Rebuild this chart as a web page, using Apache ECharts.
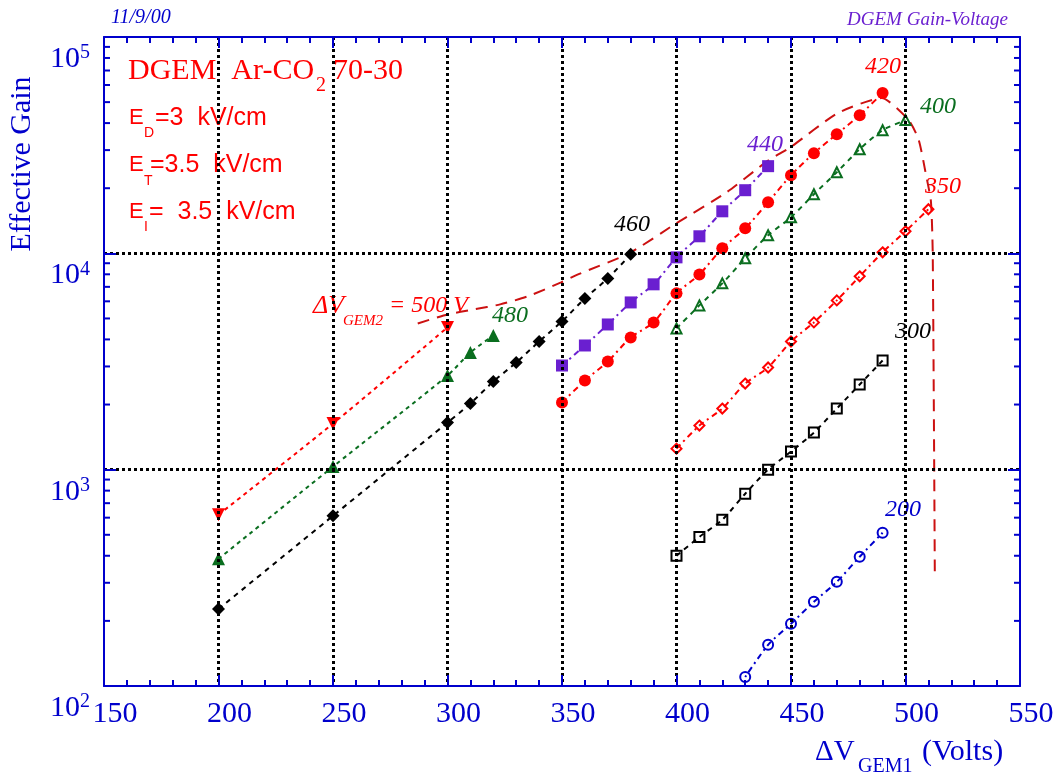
<!DOCTYPE html>
<html>
<head>
<meta charset="utf-8">
<script src="https://cdn.jsdelivr.net/npm/echarts@6/dist/echarts.min.js"></script>
<style>html,body{margin:0;padding:0;background:#fff}#c{width:1058px;height:776px}</style>
</head>
<body>
<div id="c"></div>
<script>
// ---- data (ΔV_GEM1 in volts, effective gain) ----
const xTicks = [150, 200, 250, 300, 350, 400, 450, 500, 550];
const yTicks = [100, 1000, 10000, 100000];
const yMinor = [200,300,400,500,600,700,800,900,2000,3000,4000,5000,6000,7000,8000,9000,20000,30000,40000,50000,60000,70000,80000,90000];

// ΔV_GEM2 = 500 V (red down triangles)
const v500 = [200, 250, 300];
const g500 = [619, 1633, 4545];
// 480 (green filled triangles)
const v480 = [200, 250, 300, 310, 320];
const g480 = [387, 1033, 2723, 3481, 4171];
// 460 (black filled diamonds)
const v460 = [200, 250, 300, 310, 320, 330, 340, 350, 360, 370, 380];
const g460 = [227, 612, 1651, 2021, 2555, 3128, 3914, 4845, 6190, 7660, 9890];
// 440 (purple filled squares)
const v440 = [350, 360, 370, 380, 390, 400, 410, 420, 430, 440];
const g440 = [3030, 3750, 4690, 5930, 7190, 9580, 11990, 15640, 19580, 25290];
// 420 (red filled circles)
const v420 = [350, 360, 370, 380, 390, 400, 410, 420, 430, 440, 450, 460, 470, 480, 490];
const g420 = [2043, 2583, 3162, 4085, 4794, 6530, 7990, 10550, 13050, 17220, 22960, 29040, 35560, 43530, 55050];
// 400 (green open triangles)
const v400 = [400, 410, 420, 430, 440, 450, 460, 470, 480, 490, 500];
const g400 = [4497, 5745, 7264, 9480, 12120, 14680, 18760, 23710, 30300, 37090, 41290];
// 350 (red open diamonds)
const v350 = [400, 410, 420, 430, 440, 450, 460, 470, 480, 490, 500, 510];
const g350 = [1251, 1599, 1916, 2501, 2967, 3913, 4794, 6060, 7830, 10110, 12640, 15990];
// 300 (black open squares)
const v300 = [400, 410, 420, 430, 440, 450, 460, 470, 480, 490];
const g300 = [400, 489, 587, 774, 1000, 1212, 1484, 1916, 2474, 3197];
// 200 (blue open circles)
const v200 = [430, 440, 450, 460, 470, 480, 490];
const g200 = [110, 155, 194, 245, 303, 396, 511];
// maximum-gain envelope (dark red dashed)
const vEnv = [287, 300, 311.5, 323, 335, 349.6, 357, 379.3, 399.9, 421.3, 439.7, 449.8, 470.4, 489.6, 501.4, 505.8, 508.9, 511.1, 511.9, 512.8];
const gEnv = [4742, 5220, 5505, 5807, 6322, 7341, 7993, 10000, 13770, 18960, 26680, 30960, 44480, 52200, 41290, 33360, 23210, 17400, 9790, 330];

const BLUE = '#0000cc', RED = '#ff0000', GREEN = '#0a6e1f', PURPLE = '#6a1fd0', BLACK = '#000000', DRED = '#cc1111';
const SERIF = '"Liberation Serif","Times New Roman",serif';
const SANS = '"Liberation Sans",Arial,sans-serif';

function pairs(xs, ys) { return xs.map((x, i) => [x, ys[i]]); }
function ser(name, xs, ys, color, symbol, size, open, dash, rotate) {
  return {
    name, type: 'line', data: pairs(xs, ys),
    symbol, symbolSize: size, symbolRotate: rotate || 0, showSymbol: true,
    smooth: 0.25,
    lineStyle: { color, width: 2, type: dash },
    itemStyle: open ? { color: 'rgba(255,255,255,0)', borderColor: color, borderWidth: 2 } : { color, borderWidth: 0 },
    z: 3, silent: true
  };
}

const chart = echarts.init(document.getElementById('c'), null, { renderer: 'canvas' });
const axisLineBlue = { show: true, lineStyle: { color: BLUE, width: 2 } };
const baseX = { type: 'value', min: 150, max: 550, interval: 50 };
const baseY = { type: 'log', logBase: 10, min: 100, max: 100000 };
const supRich = {
  b: { fontFamily: SERIF, fontSize: 30, color: BLUE, lineHeight: 32 },
  s: { fontFamily: SERIF, fontSize: 20, color: BLUE, verticalAlign: 'top', lineHeight: 32, padding: [0, 0, 8, 0] }
};

const option = {
  animation: false,
  backgroundColor: '#fff',
  grid: { left: 104, right: 38, top: 37, bottom: 90, containLabel: false },
  xAxis: [
    Object.assign({}, baseX, {
      position: 'bottom',
      axisLine: axisLineBlue,
      axisTick: { show: true, inside: true, length: 11, lineStyle: { color: BLUE, width: 2 } },
      minorTick: { show: true, splitNumber: 5, length: 6, lineStyle: { color: BLUE, width: 2 } },
      axisLabel: { color: BLUE, fontFamily: SERIF, fontSize: 30, margin: 13, padding: [0, 0, 0, 22],
        customValues: xTicks, formatter: v => String(v) },
      splitLine: { show: true, showMinLine: false, showMaxLine: false, lineStyle: { color: BLACK, width: 3, type: [3, 3] } },
      z: 5
    }),
    Object.assign({}, baseX, {
      position: 'top',
      axisLine: axisLineBlue,
      axisTick: { show: true, inside: true, length: 11, lineStyle: { color: BLUE, width: 2 } },
      minorTick: { show: true, splitNumber: 5, length: 6, lineStyle: { color: BLUE, width: 2 } },
      axisLabel: { show: false }, splitLine: { show: false }, z: 5
    })
  ],
  yAxis: [
    Object.assign({}, baseY, {
      position: 'left',
      axisLine: axisLineBlue,
      axisTick: { show: true, inside: true, length: 12, lineStyle: { color: BLUE, width: 2 } },
      axisLabel: {
        color: BLUE, margin: 14, padding: [44, 0, 0, 0],
        formatter: v => '{b|10}{s|' + Math.round(Math.log10(v)) + '}',
        rich: supRich
      },
      splitLine: { show: true, showMinLine: false, showMaxLine: false, lineStyle: { color: BLACK, width: 3, type: [3, 3] } },
      z: 5
    }),
    Object.assign({}, baseY, {
      position: 'right', axisLine: axisLineBlue,
      axisTick: { show: true, inside: true, length: 12, lineStyle: { color: BLUE, width: 2 } },
      axisLabel: { show: false }, splitLine: { show: false }, z: 5
    })
  ],
  series: [
    Object.assign(ser('envelope', vEnv, gEnv, DRED, 'none', 0, false, [12, 8]), { smooth: 0.2, z: 2 }),
    ser('500', v500, g500, RED, 'triangle', 13, false, [4, 4], 180),
    ser('480', v480, g480, GREEN, 'triangle', 13, false, [4, 4]),
    ser('460', v460, g460, BLACK, 'diamond', 13, false, [5, 5]),
    ser('440', v440, g440, PURPLE, 'rect', 12, false, [6, 4, 2, 4]),
    ser('420', v420, g420, RED, 'circle', 12, false, [6, 4, 2, 4]),
    ser('400', v400, g400, GREEN, 'triangle', 10, true, [5, 5]),
    ser('350', v350, g350, RED, 'diamond', 10, true, [6, 4, 2, 4]),
    ser('300', v300, g300, BLACK, 'rect', 10, true, [5, 5]),
    ser('200', v200, g200, BLUE, 'circle', 10, true, [2, 4, 6, 4]),
    {
      name: 'minor y ticks', type: 'custom', coordinateSystem: 'cartesian2d', silent: true, z: 6,
      data: yMinor.map(v => [150, v]),
      renderItem: function (params, api) {
        const p = api.coord([150, api.value(1)]);
        const cs = params.coordSys;
        const st = { stroke: BLUE, lineWidth: 2 };
        return { type: 'group', children: [
          { type: 'line', shape: { x1: cs.x, y1: p[1], x2: cs.x + 6, y2: p[1] }, style: st },
          { type: 'line', shape: { x1: cs.x + cs.width - 6, y1: p[1], x2: cs.x + cs.width, y2: p[1] }, style: st }
        ] };
      }
    }
  ],
  graphic: [
    { type: 'text', x: 111, y: 18, style: { text: '11/9/00', font: 'italic 20px ' + SERIF, fill: BLUE, align: 'left', verticalAlign: 'middle' } },
    { type: 'text', x: 1008, y: 20, style: { text: 'DGEM Gain-Voltage', font: 'italic 19px ' + SERIF, fill: PURPLE, align: 'right', verticalAlign: 'middle' } },
    { type: 'text', x: 22, y: 164, rotation: Math.PI / 2, style: { text: 'Effective Gain', font: '30px ' + SERIF, fill: BLUE, align: 'center', verticalAlign: 'middle' } },
    // x axis title
    { type: 'text', x: 815, y: 752, style: { text: 'ΔV', font: '29px ' + SERIF, fill: BLUE, align: 'left', verticalAlign: 'middle' } },
    { type: 'text', x: 858, y: 767, style: { text: 'GEM1', font: '20px ' + SERIF, fill: BLUE, align: 'left', verticalAlign: 'middle' } },
    { type: 'text', x: 922, y: 752, style: { text: '(Volts)', font: '30px ' + SERIF, fill: BLUE, align: 'left', verticalAlign: 'middle' } },
    // info block
    { type: 'text', x: 128, y: 71, style: { text: 'DGEM  Ar-CO', font: '30px ' + SERIF, fill: RED, align: 'left', verticalAlign: 'middle' } },
    { type: 'text', x: 316, y: 86, style: { text: '2', font: '20px ' + SERIF, fill: RED, align: 'left', verticalAlign: 'middle' } },
    { type: 'text', x: 333, y: 71, style: { text: '70-30', font: '30px ' + SERIF, fill: RED, align: 'left', verticalAlign: 'middle' } },
    { type: 'text', x: 129, y: 118, style: { text: 'E', font: '22px ' + SANS, fill: RED, align: 'left', verticalAlign: 'middle' } },
    { type: 'text', x: 144, y: 133, style: { text: 'D', font: '14px ' + SANS, fill: RED, align: 'left', verticalAlign: 'middle' } },
    { type: 'text', x: 155, y: 118, style: { text: '=3  kV/cm', font: '25px ' + SANS, fill: RED, align: 'left', verticalAlign: 'middle' } },
    { type: 'text', x: 129, y: 165, style: { text: 'E', font: '22px ' + SANS, fill: RED, align: 'left', verticalAlign: 'middle' } },
    { type: 'text', x: 144, y: 181, style: { text: 'T', font: '14px ' + SANS, fill: RED, align: 'left', verticalAlign: 'middle' } },
    { type: 'text', x: 150, y: 165, style: { text: '=3.5  kV/cm', font: '25px ' + SANS, fill: RED, align: 'left', verticalAlign: 'middle' } },
    { type: 'text', x: 129, y: 212, style: { text: 'E', font: '22px ' + SANS, fill: RED, align: 'left', verticalAlign: 'middle' } },
    { type: 'text', x: 144, y: 227, style: { text: 'I', font: '14px ' + SANS, fill: RED, align: 'left', verticalAlign: 'middle' } },
    { type: 'text', x: 149, y: 212, style: { text: '=  3.5  kV/cm', font: '25px ' + SANS, fill: RED, align: 'left', verticalAlign: 'middle' } },
    // series labels
    { type: 'text', x: 632, y: 225, style: { text: '460', font: 'italic 24px ' + SERIF, fill: BLACK, align: 'center', verticalAlign: 'middle' } },
    { type: 'text', x: 510, y: 316, style: { text: '480', font: 'italic 24px ' + SERIF, fill: GREEN, align: 'center', verticalAlign: 'middle' } },
    { type: 'text', x: 765, y: 145, style: { text: '440', font: 'italic 24px ' + SERIF, fill: PURPLE, align: 'center', verticalAlign: 'middle' } },
    { type: 'text', x: 883, y: 67, style: { text: '420', font: 'italic 24px ' + SERIF, fill: RED, align: 'center', verticalAlign: 'middle' } },
    { type: 'text', x: 938, y: 107, style: { text: '400', font: 'italic 24px ' + SERIF, fill: GREEN, align: 'center', verticalAlign: 'middle' } },
    { type: 'text', x: 943, y: 187, style: { text: '350', font: 'italic 24px ' + SERIF, fill: RED, align: 'center', verticalAlign: 'middle' } },
    { type: 'text', x: 913, y: 332, style: { text: '300', font: 'italic 24px ' + SERIF, fill: BLACK, align: 'center', verticalAlign: 'middle' } },
    { type: 'text', x: 903, y: 510, style: { text: '200', font: 'italic 24px ' + SERIF, fill: BLUE, align: 'center', verticalAlign: 'middle' } },
    { type: 'text', x: 313, y: 306, style: { text: 'ΔV', font: 'italic 26px ' + SERIF, fill: RED, align: 'left', verticalAlign: 'middle' } },
    { type: 'text', x: 343, y: 321, style: { text: 'GEM2', font: 'italic 15px ' + SERIF, fill: RED, align: 'left', verticalAlign: 'middle' } },
    { type: 'text', x: 389, y: 306, style: { text: '= 500 V', font: 'italic 24px ' + SERIF, fill: RED, align: 'left', verticalAlign: 'middle' } }
  ]
};
chart.setOption(option);
</script>
</body>
</html>
